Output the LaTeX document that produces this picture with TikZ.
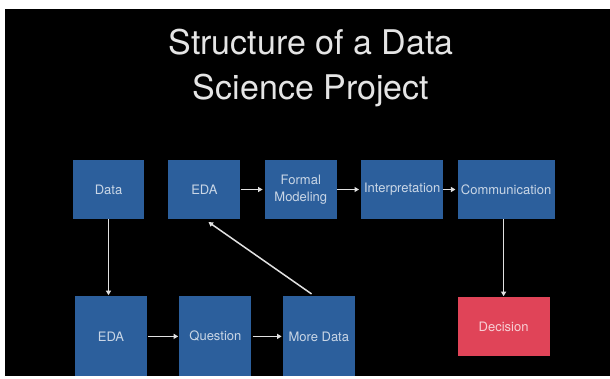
\documentclass[tikz,border=0pt]{standalone}
\usepackage{fontspec}
\setmainfont{TeX Gyre Heros}
\usetikzlibrary{arrows.meta, positioning}
\definecolor{SlideBlue}{RGB}{44, 95, 156}
\definecolor{SlideRed}{RGB}{224, 68, 88}
\definecolor{ArrowGray}{RGB}{225, 225, 225}

\begin{document}
\begin{tikzpicture}[x=1pt, y=1pt,
        node distance=24pt,
        box/.style={rectangle, fill=SlideBlue, minimum width=72pt, minimum height=59pt, inner sep=0pt, align=center, text=white, text opacity=0.75, font=\fontsize{13}{17}\selectfont},
        tall/.style={box, minimum height=80pt},
        arrow/.style={draw=ArrowGray, line width=1.5pt, -{Triangle[length=4.5pt, width=5pt]}}
    ]
        % slide frame
        \fill[white] (0,0) rectangle (610,-379);
        \fill[black] (5,-9) rectangle (610,-376);
        \useasboundingbox (0,0) rectangle (610,-379);

        \node[align=center, text=white!90!black, font=\fontsize{34}{45}\selectfont, anchor=base] (title) at (311,-100) {Structure of a Data\\Science Project};

        % top row
        \node[box, minimum width=71pt] (data) at (108.5,-189.5) {Data};
        \node[box, right=of data] (eda) {EDA};
        \node[box, right=of eda] (model) {Formal\\Modeling};
        \node[box, minimum width=82pt, right=of model] (interp) {Interpretation};
        \node[box, minimum width=97pt, right=14pt of interp] (comm) {Communication};

        % bottom row
        \node[tall, below=77pt of data, xshift=2.5pt] (eda2) {EDA};
        \node[tall, right=32pt of eda2] (question) {Question};
        \node[tall, right=31pt of question] (more) {More Data};
        \node[box, fill=SlideRed, minimum width=92pt, below=78pt of comm, xshift=-2.5pt] (decision) {Decision};

        \draw[arrow, shorten >=2pt] (eda) -- (model);
        \draw[arrow, shorten >=2pt] (model) -- (interp);
        \draw[arrow, shorten >=2pt] (interp) -- (comm);
        \draw[arrow, shorten >=1pt] (data.south) -- (data.south |- eda2.north);
        \draw[arrow, shorten >=1pt] (comm.south -| decision.north) -- (decision.north);
        \draw[arrow, shorten <=1pt, shorten >=1pt] (eda2) -- (question);
        \draw[arrow, shorten <=1pt, shorten >=1pt] (question) -- (more);
        \draw[arrow, shorten <=4pt, shorten >=5pt] ([xshift=-4pt]more.north) -- (eda.south);
    \end{tikzpicture}
\end{document}
